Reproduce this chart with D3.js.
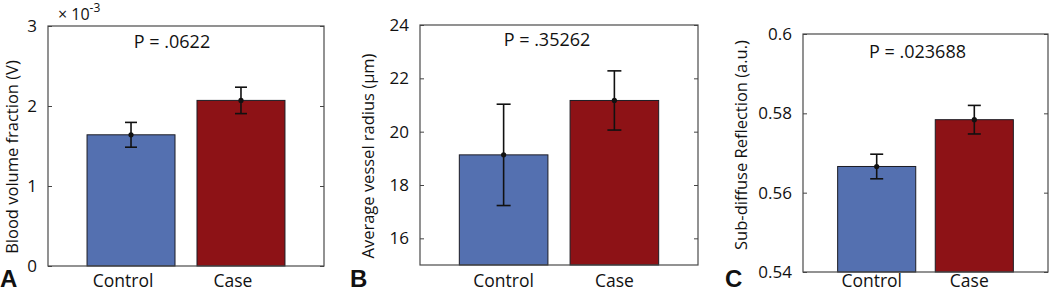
<!DOCTYPE html>
<html lang="en">
<head>
  <meta charset="UTF-8">
  <title>Control vs Case</title>
  <script src="https://d3js.org/d3.v7.min.js"></script>
  <style>
    body { margin: 0; background: #fff; font-family: "Open Sans", Arial, sans-serif; }
    svg text { fill: #111; }
    .tick text { font-size: 17px; }
    .tick line { stroke: #444; }
    .panel-letter { font-family: "Liberation Sans", Arial, sans-serif; font-weight: bold; font-size: 24px; }
  </style>
</head>
<body>
<div id="chart"></div>
<script>
  const width = 1050;
  const height = 291;

  // data
  const groups = ["Control", "Case"];
  const bloodMean = [1.64e-3, 2.07e-3];
  const bloodErr = [0.155e-3, 0.165e-3];
  const bloodTicks = [0, 1e-3, 2e-3, 3e-3];
  const radiusMean = [19.13, 21.17];
  const radiusErr = [1.9, 1.11];
  const radiusTicks = [16, 18, 20, 22, 24];
  const reflMean = [0.5666, 0.5784];
  const reflErr = [0.0031, 0.0036];
  const reflTicks = [0.54, 0.56, 0.58, 0.6];
  const pValues = ["P = .0622", "P = .35262", "P = .023688"];
  const yLabels = ["Blood volume fraction (V)", "Average vessel radius (\u03bcm)", "Sub-diffuse Reflection (a.u.)"];
  const letters = ["A", "B", "C"];

  const barColors = ["#5470b0", "#8d1216"];

  const svg = d3.select("#chart").append("svg")
    .attr("width", width)
    .attr("height", height);

  // layout of each panel (box edges in px)
  const panels = [
    { mean: bloodMean, err: bloodErr, ticks: bloodTicks, domain: [0, 3e-3], fmt: d => String(Math.round(d * 1e3)),
      left: 48, right: 324, top: 26, bottom: 266, labelX: 18, labelY: 157, letterX: 0, pDy: 22, xShift: -8, capW: 12, pShift: -14 },
    { mean: radiusMean, err: radiusErr, ticks: radiusTicks, domain: [15, 24], fmt: d => String(d),
      left: 420, right: 698, top: 25, bottom: 265, labelX: 374, labelY: 156, letterX: 350, pDy: 21, xShift: 0, capW: 14, pShift: -12 },
    { mean: reflMean, err: reflErr, ticks: reflTicks, domain: [0.54, 0.6], fmt: d => String(+d.toFixed(2)),
      left: 803, right: 1048, top: 34, bottom: 272, labelX: 747, labelY: 145, letterX: 725, pDy: 24, xShift: -5, capW: 13, pShift: -8 }
  ];

  panels.forEach((p, i) => {
    const g = svg.append("g");

    const x = d3.scaleBand()
      .domain(groups)
      .range([p.left, p.right])
      .paddingInner(0.2)
      .paddingOuter(0.355);

    const y = d3.scaleLinear()
      .domain(p.domain)
      .range([p.bottom, p.top]);

    // bars
    g.selectAll("rect.bar")
      .data(groups)
      .join("rect")
      .attr("class", "bar")
      .attr("x", d => x(d))
      .attr("width", x.bandwidth())
      .attr("y", (d, j) => y(p.mean[j]))
      .attr("height", (d, j) => p.bottom - y(p.mean[j]))
      .attr("fill", (d, j) => barColors[j])
      .attr("stroke", "#1c1c24")
      .attr("stroke-width", 1);

    // error bars
    const eb = g.selectAll("g.err")
      .data(groups)
      .join("g")
      .attr("class", "err")
      .attr("stroke", "#111")
      .attr("stroke-width", 1.6);

    eb.append("line")
      .attr("x1", d => x(d) + x.bandwidth() / 2)
      .attr("x2", d => x(d) + x.bandwidth() / 2)
      .attr("y1", (d, j) => y(p.mean[j] - p.err[j]))
      .attr("y2", (d, j) => y(p.mean[j] + p.err[j]));

    [-1, 1].forEach(s => {
      eb.append("line")
        .attr("x1", d => x(d) + x.bandwidth() / 2 - p.capW / 2)
        .attr("x2", d => x(d) + x.bandwidth() / 2 + p.capW / 2)
        .attr("y1", (d, j) => y(p.mean[j] + s * p.err[j]))
        .attr("y2", (d, j) => y(p.mean[j] + s * p.err[j]));
    });

    eb.append("circle")
      .attr("cx", d => x(d) + x.bandwidth() / 2)
      .attr("cy", (d, j) => y(p.mean[j]))
      .attr("r", 2.6)
      .attr("fill", "#111")
      .attr("stroke", "none");

    // frame
    g.append("rect")
      .attr("x", p.left)
      .attr("y", p.top)
      .attr("width", p.right - p.left)
      .attr("height", p.bottom - p.top)
      .attr("fill", "none")
      .attr("stroke", "#4a4a4a")
      .attr("stroke-width", 1.2);

    // y axis, ticks inside on both sides
    const yAxis = g.append("g")
      .attr("transform", `translate(${p.left},0)`)
      .call(d3.axisLeft(y).tickValues(p.ticks).tickFormat(p.fmt).tickSizeInner(-4).tickSizeOuter(0).tickPadding(11));
    yAxis.select(".domain").remove();
    yAxis.selectAll("text").attr("font-family", "'Open Sans', Arial, sans-serif");

    const yRight = g.append("g")
      .attr("transform", `translate(${p.right},0)`)
      .call(d3.axisRight(y).tickValues(p.ticks).tickFormat("").tickSizeInner(-4).tickSizeOuter(0));
    yRight.select(".domain").remove();

    // x labels
    g.selectAll("text.xlab")
      .data(groups)
      .join("text")
      .attr("class", "xlab")
      .attr("x", d => x(d) + x.bandwidth() / 2 + p.xShift)
      .attr("y", 287)
      .attr("text-anchor", "middle")
      .attr("font-size", 17.5)
      .text(d => d);

    // y label
    g.append("text")
      .attr("transform", `translate(${p.labelX},${p.labelY}) rotate(-90)`)
      .attr("text-anchor", "middle")
      .attr("font-size", 16.5)
      .text(yLabels[i]);

    // p value
    g.append("text")
      .attr("x", (p.left + p.right) / 2 + p.pShift)
      .attr("y", p.top + p.pDy)
      .attr("text-anchor", "middle")
      .attr("font-size", 18)
      .text(pValues[i]);

    // panel letter
    g.append("text")
      .attr("class", "panel-letter")
      .attr("x", p.letterX)
      .attr("y", 287)
      .text(letters[i]);
  });

  // exponent label of panel A
  const expo = svg.append("text")
    .attr("x", 58)
    .attr("y", 20)
    .attr("font-size", 16);
  expo.append("tspan").text("\u00d7 10");
  expo.append("tspan").attr("font-size", 12).attr("dy", -8).text("-3");
</script>
</body>
</html>
